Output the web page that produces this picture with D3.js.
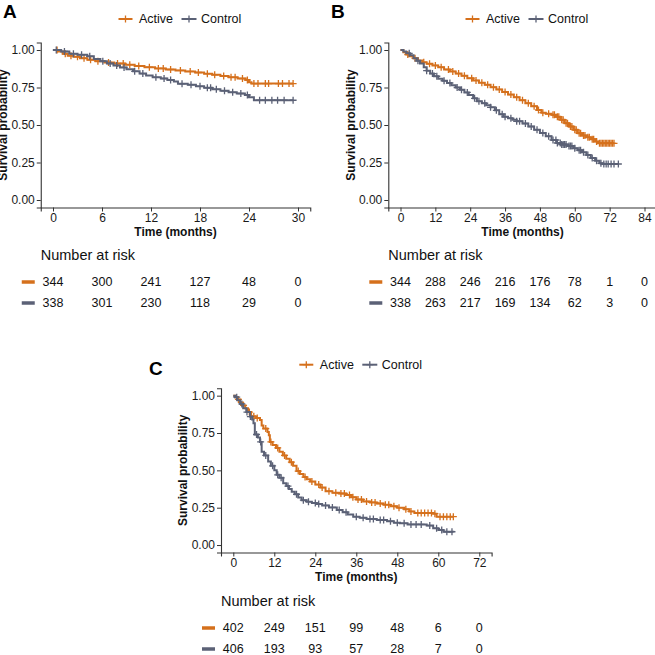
<!DOCTYPE html>
<html>
<head>
<meta charset="utf-8">
<script src="https://cdn.jsdelivr.net/npm/d3@7"></script>
<style>
  body { margin: 0; background: #fff; }
  svg { font-family: "Liberation Sans", Arial, sans-serif; }
  .tick text { font-size: 12px; fill: #1a1a1a; }
  .tick line, .domain { stroke: #333; }
</style>
</head>
<body>
<svg width="655" height="655"></svg>
<script>
// --- data: KM steps are [time (months), survival] ---
const seriesNames = ['Active', 'Control'];
const colors = ['#D5701C', '#5B6176'];
const yTicks = [0, 0.25, 0.5, 0.75, 1];

// panel A
const ticksA = [0, 6, 12, 18, 24, 30];
const stepsA_active = [[0,1],[0.6,0.99],[1.2,0.975],[1.8,0.962],[2.5,0.955],[3.3,0.945],[4.2,0.935],[5.2,0.925],[6.3,0.917],[7.5,0.91],[8.8,0.902],[10,0.893],[11.2,0.885],[12.5,0.877],[13.8,0.87],[15,0.864],[16.2,0.857],[17.4,0.85],[18.5,0.842],[19.5,0.835],[20.5,0.826],[21.5,0.818],[22.6,0.81],[23.6,0.8],[24,0.785],[24.3,0.776],[29.4,0.776]];
const stepsA_control = [[0,1],[1,0.99],[2,0.975],[3,0.968],[4.2,0.958],[5,0.94],[5.8,0.925],[6.6,0.91],[7.4,0.897],[8.2,0.884],[9,0.872],[9.8,0.858],[10.6,0.843],[11.4,0.83],[12.2,0.818],[13.2,0.81],[14,0.8],[14.8,0.79],[15.3,0.775],[16.5,0.768],[17.5,0.758],[18.5,0.748],[19.5,0.738],[20.5,0.728],[21.5,0.718],[22.5,0.71],[23.5,0.7],[24,0.685],[24.6,0.665],[29.4,0.665]];
const censA_active = [0.5,1.5,2.2,3,3.8,4.6,5.5,6.8,7.9,8.6,9.4,10.5,11.8,12.9,13.5,14.4,15.6,16.8,17.8,18.9,19.8,20.9,21.8,22.3,23.2,23.8,24.6,25.1,26,26.4,27.6,28.1,28.9,29.4];
const censA_control = [0.4,1.4,2.5,3.5,4.5,6.1,7,7.8,8.7,10,11,12.6,13.6,14.4,15.8,16.9,18,18.9,19.3,20,21,22,23,23.8,25.3,26,26.8,27.5,28.3,29.4];
const riskA_active = [344, 300, 241, 127, 48, 0];
const riskA_control = [338, 301, 230, 118, 29, 0];

// panel B
const ticksB = [0, 12, 24, 36, 48, 60, 72, 84];
const stepsB_active = [[0,1],[1,0.985],[2,0.97],[3,0.958],[4.5,0.945],[6,0.93],[7.5,0.918],[9,0.908],[11,0.897],[13,0.885],[15,0.87],[17,0.857],[19,0.843],[21,0.828],[23,0.812],[25,0.797],[27,0.782],[29,0.768],[31,0.752],[33,0.737],[35,0.72],[37,0.703],[39,0.685],[41,0.665],[43,0.645],[45,0.625],[47,0.6],[48.5,0.582],[50,0.575],[52,0.568],[53.5,0.555],[55,0.535],[56.5,0.512],[58,0.49],[59.5,0.468],[61,0.445],[62.5,0.43],[64,0.418],[65.5,0.405],[67,0.39],[68,0.378],[73.5,0.378]];
const stepsB_control = [[0,1],[1,0.99],[2,0.978],[3.3,0.965],[4.5,0.945],[5.5,0.928],[6.7,0.91],[8,0.885],[9,0.862],[10.2,0.843],[11.5,0.825],[13,0.808],[14.5,0.795],[16,0.78],[17.5,0.765],[19,0.75],[20.5,0.735],[22,0.717],[23.5,0.7],[25,0.678],[26.3,0.658],[28,0.645],[29.5,0.632],[31,0.618],[32.5,0.598],[34,0.572],[35.5,0.555],[37,0.545],[38.5,0.535],[40,0.525],[42,0.51],[44,0.49],[46,0.468],[48,0.446],[50,0.425],[52,0.4],[53.7,0.38],[55.5,0.37],[57.5,0.36],[59.5,0.345],[61,0.332],[62.5,0.318],[64,0.3],[65.5,0.28],[67,0.262],[68.5,0.245],[69.5,0.24],[75,0.24]];
const censB_active = [2.5,5,8,10,12,14,16.5,18,20,22,24.5,26,28,30,32,34,36,38,40,42,44,46,47.5,49,51,52.5,53,54,54.5,55.5,56,57,57.5,58.5,59,60,60.5,61.5,62,63,63.5,64.5,65,66,66.5,67.5,68.5,69,69.5,70,70.5,71,71.5,72,72.5,73,73.5];
const censB_control = [3,6,9,11,12.5,15,17,19.5,21,23,25.5,27,29,31,33,35,36,38,40,41,43,45,47,49,51,52.5,53.5,54,55,55.5,56,56.5,57,58,58.5,59,60,61.5,62,63,64.5,66,67.5,69,70,70.8,71.5,72.5,73.5,75];
const riskB_active = [344, 288, 246, 216, 176, 78, 1, 0];
const riskB_control = [338, 263, 217, 169, 134, 62, 3, 0];

// panel C
const ticksC = [0, 12, 24, 36, 48, 60, 72];
const stepsC_active = [[0,1],[0.6,0.99],[1.2,0.975],[2,0.955],[2.8,0.935],[3.5,0.915],[4.3,0.89],[5.2,0.862],[6.5,0.85],[7.8,0.837],[8.3,0.8],[8.8,0.78],[10,0.757],[10.4,0.735],[10.7,0.69],[11.5,0.67],[12.5,0.65],[13.5,0.625],[14.5,0.6],[15.5,0.578],[16.5,0.555],[17.5,0.53],[18.5,0.495],[19.5,0.475],[20.5,0.455],[21.5,0.44],[22.5,0.425],[24,0.405],[25.5,0.385],[27,0.36],[29,0.35],[31,0.345],[33,0.335],[34.5,0.32],[36,0.305],[38,0.292],[40,0.285],[42,0.278],[44,0.27],[46,0.26],[48,0.25],[50,0.24],[51.5,0.225],[53,0.215],[58.5,0.21],[59.5,0.19],[64.4,0.19]];
const stepsC_control = [[0,1],[0.5,0.99],[1.2,0.97],[2,0.945],[2.9,0.915],[3.8,0.89],[4.9,0.86],[5.5,0.84],[5.9,0.815],[6.3,0.74],[7.2,0.72],[7.8,0.69],[8.3,0.625],[9,0.6],[10.2,0.56],[11,0.53],[12,0.5],[12.7,0.47],[13.5,0.45],[14.6,0.413],[15.5,0.395],[16.3,0.375],[17.1,0.357],[18,0.34],[19,0.318],[20,0.3],[21.5,0.29],[23,0.282],[24.4,0.275],[26,0.265],[28,0.252],[30.3,0.234],[32,0.22],[33.5,0.205],[35.1,0.19],[37,0.182],[39,0.175],[42,0.167],[45,0.16],[47,0.15],[48.8,0.145],[51,0.138],[56.6,0.13],[58.5,0.112],[60,0.1],[61.5,0.089],[64.4,0.085]];
const censC_active = [1.5,3,4.7,6,7,9.5,11,13,15,17,19,21,23,25,26,28,30,31.5,32.5,34,35,36.5,37.5,39,40.5,41.5,43,44.5,45.5,47,48.5,50.5,52,54,55,56,57,58,59,60.5,61.5,62.5,63.5,64.4];
const censC_control = [1,2.5,4,5,6.8,8,9.5,11.5,13,14,16,18.5,20.5,22,24,25,27,29,31,33,36,38,40,41,43,44,46,48,50,52,53.5,55,57.5,59.5,61,62.5,64];
const riskC_active = [402, 249, 151, 99, 48, 6, 0];
const riskC_control = [406, 193, 93, 57, 28, 7, 0];

const svg = d3.select('svg');
svg.append('rect').attr('width', 655).attr('height', 655).attr('fill', '#fff');

// survival value at time t (step lookup)
const survAt = (steps, t) => {
	let s = steps[0][1];
	steps.forEach(d => { if (d[0] <= t) s = d[1]; });
	return s;
};

const drawPanel = p => {
	const xScale = d3.scaleLinear().domain(p.xDomain).range(p.xRange);
	const yScale = d3.scaleLinear().domain([-0.05, 1.05]).range(p.yRange);
	const g = svg.append('g');

	const yAxisG = g.append('g')
		.attr('transform', `translate(${p.xRange[0]},0)`)
		.call(d3.axisLeft(yScale).tickValues(yTicks).tickFormat(d3.format('.2f'))
			.tickSizeOuter(0).tickSize(4).tickPadding(2));
	const xAxisG = g.append('g')
		.attr('transform', `translate(0,${p.yRange[0]})`)
		.call(d3.axisBottom(xScale).tickValues(p.ticks)
			.tickSizeOuter(0).tickSize(4).tickPadding(2));
	g.selectAll('.domain').attr('stroke-width', 1.1);

	g.append('text')
		.attr('font-size', 12).attr('font-weight', 'bold').attr('fill', '#111')
		.attr('text-anchor', 'middle')
		.attr('transform', `translate(${p.xRange[0] - 38},${(p.yRange[0] + p.yRange[1]) / 2}) rotate(-90)`)
		.attr('dy', '0.35em')
		.text('Survival probability');

	g.append('text')
		.attr('font-size', 12).attr('font-weight', 'bold').attr('fill', '#111')
		.attr('text-anchor', 'middle')
		.attr('x', (p.xRange[0] + p.xRange[1]) / 2)
		.attr('y', p.yRange[0] + 28.5)
		.text('Time (months)');

	const line = d3.line()
		.x(d => xScale(d[0]))
		.y(d => yScale(d[1]))
		.curve(d3.curveStepAfter);

	p.series.forEach((s, i) => {
		g.append('path')
			.attr('d', line(s.steps))
			.attr('fill', 'none')
			.attr('stroke', colors[i])
			.attr('stroke-width', 2);
		g.append('g').selectAll('path')
			.data(s.cens)
			.join('path')
			.attr('transform', d => `translate(${xScale(d)},${yScale(survAt(s.steps, d))})`)
			.attr('d', 'M-3.5,0H3.5M0,-3.5V3.5')
			.attr('stroke', colors[i])
			.attr('stroke-width', 1.3);
	});

	// legend
	const cx = (p.xRange[0] + p.xRange[1]) / 2 + 4;
	const ly = p.yRange[1] - 23.5;
	const legendItems = [{k0: -61, k1: -47, tx: -40.5}, {k0: 2, k1: 17, tx: 21.5}];
	legendItems.forEach((it, i) => {
		g.append('line')
			.attr('x1', cx + it.k0).attr('x2', cx + it.k1)
			.attr('y1', ly).attr('y2', ly)
			.attr('stroke', colors[i]).attr('stroke-width', 2);
		g.append('path')
			.attr('transform', `translate(${cx + (it.k0 + it.k1) / 2},${ly})`)
			.attr('d', 'M-3.5,0H3.5M0,-3.5V3.5')
			.attr('stroke', colors[i]).attr('stroke-width', 1.3);
		g.append('text')
			.attr('x', cx + it.tx).attr('y', ly).attr('dy', '0.35em')
			.attr('font-size', 12.5).attr('fill', '#111')
			.text(seriesNames[i]);
	});

	// panel letter
	g.append('text')
		.attr('x', p.letter.x).attr('y', p.letter.y)
		.attr('font-size', 19).attr('font-weight', 'bold').attr('fill', '#000')
		.text(p.letter.text);

	// risk table
	g.append('text')
		.attr('x', p.xRange[0]).attr('y', p.riskTitleY)
		.attr('font-size', 14.5).attr('fill', '#111')
		.text('Number at risk');
	p.series.forEach((s, i) => {
		const ry = p.rowY[i];
		g.append('line')
			.attr('x1', p.xRange[0] - 19).attr('x2', p.xRange[0] - 6)
			.attr('y1', ry).attr('y2', ry)
			.attr('stroke', colors[i]).attr('stroke-width', 3.5);
		g.append('g').selectAll('text')
			.data(s.risk)
			.join('text')
			.attr('x', (d, j) => xScale(p.ticks[j]))
			.attr('y', ry).attr('dy', '0.35em')
			.attr('text-anchor', 'middle')
			.attr('font-size', 12.5).attr('fill', '#111')
			.text(d => d);
	});
};

drawPanel({
	xDomain: [-1.5, 31.5], xRange: [40.75, 310.25], yRange: [207.5, 42.5],
	ticks: ticksA, letter: {text: 'A', x: 3, y: 18},
	riskTitleY: 260, rowY: [282, 303],
	series: [
		{steps: stepsA_active, cens: censA_active, risk: riskA_active},
		{steps: stepsA_control, cens: censA_control, risk: riskA_control}
	]
});

drawPanel({
	xDomain: [-4.2, 88.2], xRange: [388.3, 656.7], yRange: [207.5, 42.5],
	ticks: ticksB, letter: {text: 'B', x: 331, y: 18},
	riskTitleY: 260, rowY: [282, 303],
	series: [
		{steps: stepsB_active, cens: censB_active, risk: riskB_active},
		{steps: stepsB_control, cens: censB_control, risk: riskB_control}
	]
});

drawPanel({
	xDomain: [-3.6, 75.6], xRange: [221, 491.6], yRange: [552.5, 388.2],
	ticks: ticksC, letter: {text: 'C', x: 149, y: 375},
	riskTitleY: 606, rowY: [628, 649],
	series: [
		{steps: stepsC_active, cens: censC_active, risk: riskC_active},
		{steps: stepsC_control, cens: censC_control, risk: riskC_control}
	]
});
</script>
</body>
</html>
